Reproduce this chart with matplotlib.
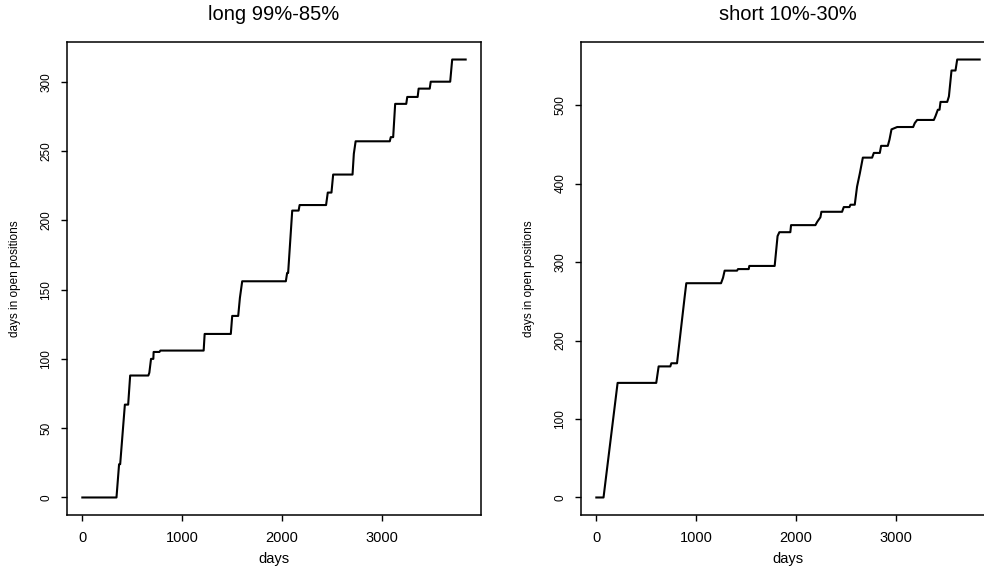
import matplotlib
matplotlib.use("Agg")
import matplotlib.pyplot as plt
import matplotlib.ticker as ticker
from matplotlib import font_manager

# long 99%-85% : breakpoints of the cumulative curve
long_days = [1, 343, 369, 380, 427, 460, 480, 662, 672, 689,
             712, 715, 773, 783, 1216, 1226, 1488, 1502, 1562, 1579,
             1602, 2039, 2052, 2062, 2103, 2167, 2177, 2442, 2459, 2496,
             2513, 2707, 2720, 2738, 3080, 3090, 3114, 3134, 3245, 3255,
             3359, 3369, 3480, 3490, 3685, 3705, 3840]
long_open = [0, 0, 24, 24, 67, 67, 88, 88, 90, 100,
             100, 105, 105, 106, 106, 118, 118, 131, 131, 144,
             156, 156, 162, 162, 207, 207, 211, 211, 220, 220,
             233, 233, 248, 257, 257, 260, 260, 284, 284, 289,
             289, 295, 295, 300, 300, 316, 316]

# short 10%-30%
short_days = [1, 73, 214, 601, 625, 742, 752, 809, 885, 902,
              1250, 1270, 1286, 1410, 1420, 1527, 1533, 1787, 1816, 1834,
              1944, 1951, 2195, 2212, 2245, 2255, 2462, 2479, 2536, 2546,
              2589, 2612, 2640, 2670, 2763, 2780, 2840, 2853, 2920, 2937,
              2957, 3014, 3174, 3190, 3214, 3381, 3398, 3421, 3438, 3448,
              3515, 3532, 3558, 3598, 3615, 3840]
short_open = [0, 0, 146, 146, 167, 167, 171, 171, 255, 273,
              273, 280, 289, 289, 291, 291, 295, 295, 333, 338,
              338, 347, 347, 351, 357, 364, 364, 370, 370, 373,
              373, 396, 413, 433, 433, 439, 439, 448, 448, 456,
              469, 472, 472, 477, 481, 481, 486, 494, 494, 504,
              504, 511, 544, 544, 558, 558]

titles = ["long 99%-85%", "short 10%-30%"]
x_ticks = [0, 1000, 2000, 3000]
y_steps = [50, 100]

names = [f.name for f in font_manager.fontManager.ttflist]
narrow = "Liberation Sans Narrow" if "Liberation Sans Narrow" in names else "Liberation Sans"
narrow_size = 9.5 if narrow == "Liberation Sans Narrow" else 8.5

plt.rcParams['font.family'] = ['Liberation Sans', 'DejaVu Sans']

W, H = 984, 569
fig = plt.figure(figsize=(W / 100, H / 100), dpi=100)

boxes = [(67, 481), (581, 995)]
series = [(long_days, long_open), (short_days, short_open)]

for i in range(2):
    l, r = boxes[i]
    ax = fig.add_axes([l / W, (H - 515) / H, (r - l) / W, (515 - 42) / H])
    xs, ys = series[i]
    ax.plot(xs, ys, color="black", lw=1.5)
    ax.margins(0.04)
    ax.set_xticks(x_ticks)
    ax.yaxis.set_major_locator(ticker.MultipleLocator(y_steps[i]))
    ax.tick_params(direction="out", length=4.5, width=1.0, colors="black")
    ax.tick_params(axis="x", labelsize=10.5, pad=7)
    ax.tick_params(axis="y", labelrotation=90, pad=6)
    for lab in ax.get_yticklabels():
        lab.set_verticalalignment("center")
        lab.set_fontfamily(narrow)
        lab.set_fontsize(narrow_size)
    for s in ax.spines.values():
        s.set_linewidth(1.1)
    ax.set_xlabel("days", fontsize=10.5, labelpad=5)
    ax.set_ylabel("days in open positions", fontsize=narrow_size,
                  family=narrow, labelpad=14)
    ax.set_title(titles[i], fontsize=14.5, pad=15.5)

plt.savefig("out.png", dpi=100)
